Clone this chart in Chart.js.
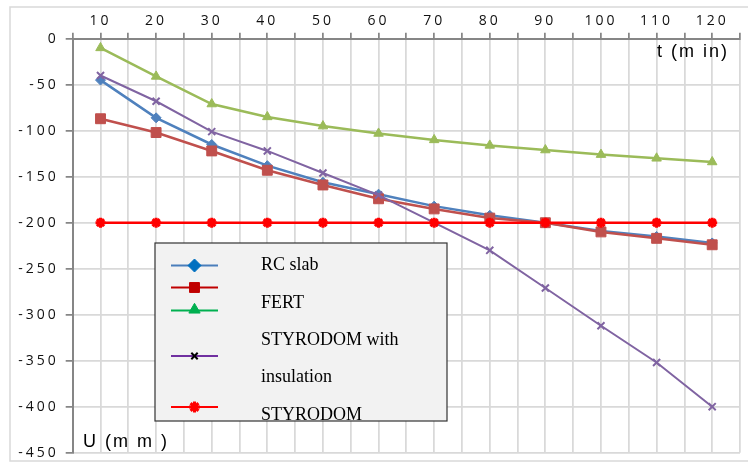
<!DOCTYPE html>
<html>
<head>
<meta charset="utf-8">
<script src="https://cdn.jsdelivr.net/npm/chart.js@4"></script>
<style>
  html, body { margin: 0; padding: 0; background: #fff; }
  #wrap { width: 748px; height: 462px; position: relative; }
</style>
</head>
<body>
<div id="wrap"><canvas id="chart"></canvas></div>
<script>
const times = [10, 20, 30, 40, 50, 60, 70, 80, 90, 100, 110, 120];
const rcSlab = [-45, -86, -115, -138, -156, -169, -182, -192, -200, -209, -215, -222];
const fert = [-87, -102, -122, -143, -159, -174, -185, -195, -200, -210, -217, -224];
const styroInsul = [-40, -68, -101, -122, -146, -170, -200, -230, -271, -312, -352, -400];
const greenSeries = [-10, -41, -71, -85, -95, -103, -110, -116, -121, -126, -130, -134];
const styrodom = [-200, -200, -200, -200, -200, -200, -200, -200, -200, -200, -200, -200];
const legendNames = ['RC slab', 'FERT', 'STYRODOM with', 'insulation', 'STYRODOM'];

const pts = arr => arr.map((v, i) => ({ x: times[i], y: v }));

function series(label, data, color, style, radius, width, pbw, order) {
  return {
    label: label,
    data: pts(data),
    borderColor: color,
    backgroundColor: color,
    borderWidth: width,
    pointStyle: style,
    pointRadius: radius,
    pointBorderWidth: pbw,
    pointBorderColor: color,
    pointBackgroundColor: color,
    tension: 0,
    order: order
  };
}

const TICK_SPACING = '3px';

// light frame around the whole chart, letter spaced tick text
const framePlugin = {
  id: 'frame',
  beforeUpdate(chart) { chart.ctx.letterSpacing = TICK_SPACING; },
  beforeDraw(chart) {
    const ctx = chart.ctx;
    ctx.save();
    ctx.strokeStyle = '#d9d9d9';
    ctx.lineWidth = 1.5;
    ctx.strokeRect(10, 7, 760, 454);
    ctx.restore();
    ctx.letterSpacing = TICK_SPACING;
  }
};

// axis titles and the boxed legend
const overlayPlugin = {
  id: 'overlay',
  afterDraw(chart) {
    const ctx = chart.ctx;
    const draw = Chart.helpers.drawPoint;
    ctx.save();
    ctx.letterSpacing = '2px';
    ctx.fillStyle = '#000';
    ctx.font = '18px "Liberation Sans"';
    ctx.textAlign = 'left';
    ctx.textBaseline = 'alphabetic';
    ctx.fillText('t (m in)', 657, 57);
    ctx.fillText('U (m m )', 83, 447);

    // legend box
    ctx.letterSpacing = '0px';
    ctx.fillStyle = '#f2f2f2';
    ctx.fillRect(155, 243, 292, 178);
    ctx.strokeStyle = '#333';
    ctx.lineWidth = 1.2;
    ctx.strokeRect(155, 243, 292, 178);

    const samples = [
      { y: 265.5, my: 265.5, line: '#4a7ebb', mark: '#0070c0', style: 'rectRot', r: 6.5, bw: 1 },
      { y: 287.5, my: 287.5, line: '#c00000', mark: '#c00000', style: 'rect', r: 7, bw: 1 },
      { y: 310.5, my: 309.8, line: '#00b050', mark: '#00b050', style: 'triangle', r: 6.5, bw: 1 },
      { y: 356, my: 356, line: '#7030a0', mark: '#000', style: 'crossRot', r: 4.5, bw: 2 },
      { y: 407, my: 407, line: '#ff0000', mark: '#ff0000', style: 'star', r: 5.5, bw: 3 }
    ];
    samples.forEach(s => {
      ctx.strokeStyle = s.line;
      ctx.lineWidth = 2;
      ctx.beginPath();
      ctx.moveTo(171, s.y);
      ctx.lineTo(218, s.y);
      ctx.stroke();
      ctx.fillStyle = s.mark;
      ctx.strokeStyle = s.mark;
      ctx.lineWidth = s.bw;
      draw(ctx, { pointStyle: s.style, radius: s.r, borderWidth: s.bw, rotation: 0 }, 194.5, s.my);
    });

    ctx.save();
    ctx.beginPath();
    ctx.rect(155, 243, 292, 177);
    ctx.clip();
    ctx.fillStyle = '#000';
    ctx.font = '18px "Liberation Serif"';
    const baselines = [270, 308, 345, 382, 420];
    legendNames.forEach((t, i) => ctx.fillText(t, 261, baselines[i]));
    ctx.restore();
    ctx.restore();
  }
};

new Chart(document.getElementById('chart').getContext('2d'), {
  type: 'line',
  data: {
    datasets: [
      series('RC slab', rcSlab, '#4f81bd', 'rectRot', 5, 2.5, 1, 4),
      series('FERT', fert, '#c0504d', 'rect', 7, 2.5, 1, 3),
      series('FERT green', greenSeries, '#9bbb59', 'triangle', 5.5, 2.5, 1, 2),
      series('STYRODOM with insulation', styroInsul, '#8064a2', 'crossRot', 5, 2, 2, 1),
      series('STYRODOM', styrodom, '#ff0000', 'star', 5, 2.5, 3, 0)
    ]
  },
  options: {
    responsive: true,
    maintainAspectRatio: false,
    animation: false,
    layout: { padding: { left: 0, top: 0, right: 4.5, bottom: 9.3 } },
    plugins: {
      legend: { display: false },
      tooltip: { enabled: false }
    },
    scales: {
      x: {
        type: 'linear',
        position: 'top',
        min: 5,
        max: 125,
        afterFit: s => { s.height = 38.7; s.paddingLeft = 0; s.paddingRight = 0; },
        grid: { color: '#d9d9d9', lineWidth: 1.75, tickColor: '#868686', tickLength: 6 },
        border: { color: '#868686', width: 2 },
        ticks: {
          stepSize: 5,
          autoSkip: false,
          maxRotation: 0,
          padding: 3,
          color: '#111',
          font: { family: 'Open Sans', size: 14 },
          callback: v => (v % 10 === 0 ? String(v) : '')
        }
      },
      y: {
        min: -450,
        max: 0,
        afterFit: s => { s.width = 72.7; s.paddingTop = 0; s.paddingBottom = 0; },
        grid: { color: '#d9d9d9', lineWidth: 1.75, tickColor: '#868686', tickLength: 7 },
        border: { color: '#868686', width: 2 },
        ticks: {
          stepSize: 50,
          padding: 7,
          color: '#111',
          font: { family: 'Open Sans', size: 14 }
        }
      }
    }
  },
  plugins: [framePlugin, overlayPlugin]
});
</script>
</body>
</html>
